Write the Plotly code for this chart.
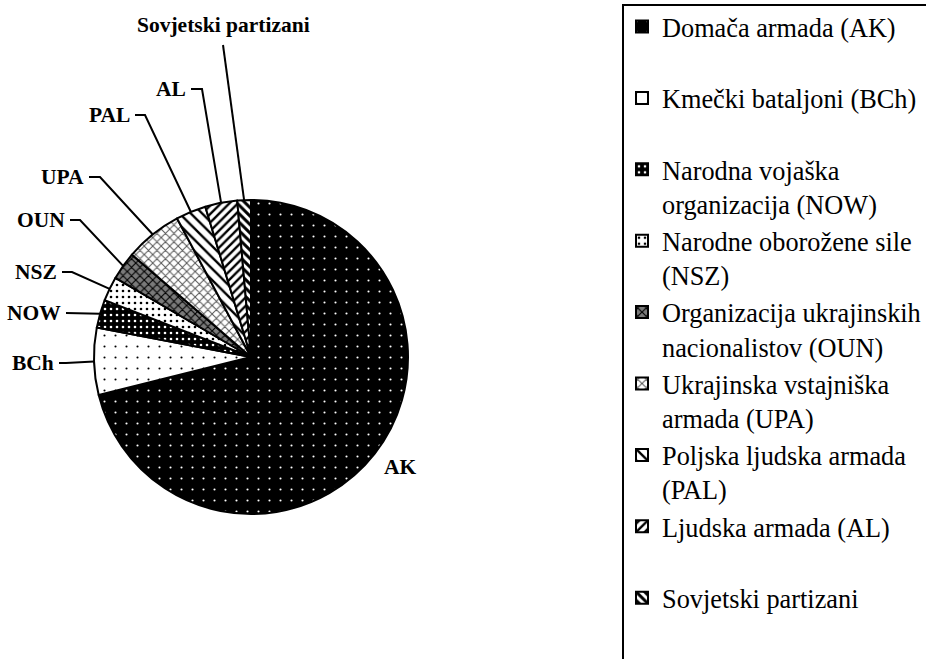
import numpy as np
import plotly.graph_objects as go

# ---------------- data ----------------
legend_names = [
    "Domača armada (AK)",
    "Kmečki bataljoni (BCh)",
    "Narodna vojaška<br>organizacija (NOW)",
    "Narodne oborožene sile<br>(NSZ)",
    "Organizacija ukrajinskih<br>nacionalistov (OUN)",
    "Ukrajinska vstajniška<br>armada (UPA)",
    "Poljska ljudska armada<br>(PAL)",
    "Ljudska armada (AL)",
    "Sovjetski partizani",
]
short_labels = ["AK", "BCh", "NOW", "NSZ", "OUN", "UPA", "PAL", "AL", "Sovjetski partizani"]
values = [71.1, 6.9, 2.9, 2.5, 2.9, 5.9, 3.1, 3.3, 1.4]

# ---------------- styles ----------------
W, H = 926, 659
CX, CY, R = 251, 357, 157  # pie centre / radius in pixels
SERIF = "Liberation Serif, Times New Roman, serif"

bg_colors = ["#000000", "#ffffff", "#000000", "#ffffff", "#7a7a7a", "#ffffff", "#ffffff", "#ffffff", "#ffffff"]
pat_shapes = [".", ".", ".", ".", "x", "x", "\\", "/", "\\"]
pat_fg = ["#ffffff", "#000000", "#ffffff", "#000000", "#000000", "#555555", "#000000", "#000000", "#000000"]
pat_size = [11, 11, 6, 6, 6, 6, 8, 6, 6]
pat_sol = [0.03, 0.03, 0.15, 0.15, 0.35, 0.3, 0.3, 0.4, 0.5]

# legend entries occupy two text lines each (single-line ones padded)
legend_display = [n if "<br>" in n else n + "<br> " for n in legend_names]

# label placement (layout only): text anchor x, y, elbow x
label_layout = {
    "BCh": (56, 363, 66),
    "NOW": (63, 313, None),
    "NSZ": (59, 272, 72),
    "OUN": (67, 220, 80),
    "UPA": (86, 177, 100),
    "PAL": (132, 115, 145),
    "AL": (188, 89, 202),
}

fig = go.Figure()

fig.add_trace(go.Pie(
    labels=legend_display,
    values=values,
    sort=False,
    direction="clockwise",
    rotation=0,
    textinfo="none",
    hoverinfo="label+percent",
    marker=dict(
        colors=bg_colors,
        line=dict(color="black", width=2),
        pattern=dict(shape=pat_shapes, fgcolor=pat_fg, bgcolor=bg_colors,
                     size=pat_size, solidity=pat_sol, fillmode="replace"),
    ),
    domain=dict(x=[(CX - R) / W, (CX + R) / W], y=[(H - CY - R) / H, (H - CY + R) / H]),
    showlegend=True,
))

# slice mid-angle edge points computed from data
vals = np.array(values, dtype=float)
cum = np.cumsum(vals)
mid = (cum - vals / 2) / vals.sum() * 2 * np.pi
ex = CX + R * np.sin(mid)
ey = CY - R * np.cos(mid)

annotations = []
lab_font = dict(family=SERIF, size=21.5, color="black")
for i, lab in enumerate(short_labels):
    if lab in label_layout:
        tx, ty, elbow = label_layout[lab]
        xs = [tx + 3]
        ys = [ty]
        if elbow is not None:
            xs.append(elbow)
            ys.append(ty)
        xs.append(ex[i])
        ys.append(ey[i])
        fig.add_trace(go.Scatter(x=xs, y=ys, mode="lines", line=dict(color="black", width=2),
                                 showlegend=False, hoverinfo="skip"))
        annotations.append(dict(x=tx, y=ty, xref="x", yref="y", text="<b>%s</b>" % lab,
                                showarrow=False, xanchor="right", yanchor="middle", font=lab_font))
    elif lab == "AK":
        annotations.append(dict(x=400, y=467, xref="x", yref="y", text="<b>AK</b>",
                                showarrow=False, xanchor="center", yanchor="middle", font=lab_font))
    else:  # Sovjetski partizani, above the pie
        fig.add_trace(go.Scatter(x=[223, ex[i]], y=[45, ey[i]], mode="lines",
                                 line=dict(color="black", width=2),
                                 showlegend=False, hoverinfo="skip"))
        annotations.append(dict(x=223, y=25, xref="x", yref="y", text="<b>%s</b>" % lab,
                                showarrow=False, xanchor="center", yanchor="middle", font=lab_font))

fig.update_layout(
    width=W, height=H,
    font=dict(family=SERIF, color="black"),
    margin=dict(l=0, r=0, t=0, b=0, autoexpand=False),
    paper_bgcolor="white", plot_bgcolor="rgba(0,0,0,0)",
    xaxis=dict(range=[0, W], visible=False, domain=[0, 1], fixedrange=True),
    yaxis=dict(range=[H, 0], visible=False, domain=[0, 1], fixedrange=True),
    annotations=annotations,
    shapes=[dict(type="rect", xref="x", yref="y", x0=623, y0=5, x1=W + 20, y1=H + 20,
                 line=dict(color="black", width=2), fillcolor="rgba(0,0,0,0)", layer="below")],
    legend=dict(
        x=622 / W, xanchor="left", y=1 - 3 / H, yanchor="top",
        borderwidth=0, bgcolor="rgba(0,0,0,0)",
        font=dict(family=SERIF, size=26.3, color="black"),
        valign="top", traceorder="normal",
    ),
)

fig.write_html("out.html", config={"displayModeBar": False},
               post_script="document.body.style.margin='0px';")
